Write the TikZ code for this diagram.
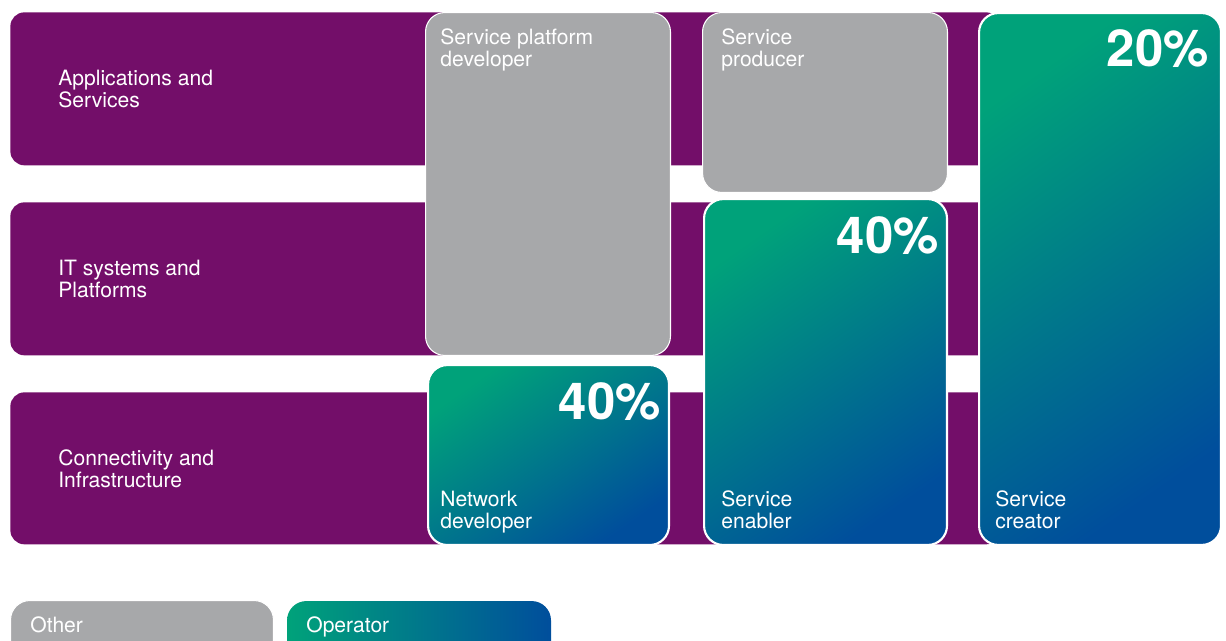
\documentclass[tikz,border=0pt]{standalone}
\usepackage{fontspec}
\setmainfont{TeX Gyre Heros}
\usetikzlibrary{positioning}

\definecolor{bandpurple}{RGB}{115,14,105}
\definecolor{othergray}{RGB}{167,168,170}
\definecolor{opgreen}{RGB}{0,162,122}
\definecolor{opblue}{RGB}{0,78,156}

\begin{document}
\begin{tikzpicture}[x=0.02cm, y=-0.02cm,
    band/.style={fill=bandpurple, rounded corners=8pt, anchor=north west, inner sep=0pt},
    otherbox/.style={fill=othergray, draw=white, line width=0.6pt, rounded corners=11pt, anchor=north west, inner sep=0pt},
    opbox/.style={top color=opgreen, bottom color=opblue, shading angle=35, draw=white, line width=1.2pt, rounded corners=11pt, anchor=north west, inner sep=0pt},
    bandtext/.style={text=white, align=left, inner sep=0pt, font=\fontsize{12}{12.5}\selectfont},
    boxtext/.style={text=white, align=left, inner sep=0pt, text depth=2.6pt, font=\fontsize{12}{12.5}\selectfont},
    pct/.style={text=white, inner sep=0pt, anchor=north east, font=\fontsize{29}{29}\selectfont\bfseries}]
      \useasboundingbox (0,0) rectangle (1226,641);

      % layers %
      \node[band, minimum width=19.8cm, minimum height=3.06cm] (apps) at (10,12) {};
      \node[band, minimum width=19.8cm, minimum height=3.06cm] (it) at (10,202) {};
      \node[band, minimum width=19.8cm, minimum height=3.04cm] (conn) at (10,392) {};
      \node[bandtext, anchor=west, xshift=0.96cm] (appstxt) at (apps.west) {Applications and\\Services};
      \node[bandtext, anchor=west, xshift=0.96cm] (ittxt) at (it.west) {IT systems and\\Platforms};
      \node[bandtext, anchor=west, xshift=0.96cm] (conntxt) at (conn.west) {Connectivity and\\Infrastructure};

      % roles %
      \node[otherbox, minimum width=4.9cm, minimum height=6.86cm] (spd) at (425,12) {};
      \node[otherbox, minimum width=4.9cm, minimum height=3.6cm] (sprod) at (702,12) {};
      \node[opbox, minimum width=4.82cm, minimum height=3.6cm] (netdev) at (427,364) {};
      \node[opbox, minimum width=4.86cm, minimum height=6.92cm] (senab) at (703,198) {};
      \node[opbox, minimum width=4.84cm, minimum height=10.64cm] (screat) at (978,12) {};

      \node[boxtext, anchor=north west, xshift=0.3cm, yshift=-0.32cm] (spdtxt) at (spd.north west) {Service platform\\developer};
      \node[boxtext, anchor=north west, xshift=0.38cm, yshift=-0.32cm] (sprodtxt) at (sprod.north west) {Service\\producer};
      \node[boxtext, anchor=south west, xshift=0.26cm, yshift=0.26cm] (netdevtxt) at (netdev.south west) {Network\\developer};
      \node[boxtext, anchor=south west, xshift=0.36cm, yshift=0.26cm] (senabtxt) at (senab.south west) {Service\\enabler};
      \node[boxtext, anchor=south west, xshift=0.34cm, yshift=0.26cm] (screattxt) at (screat.south west) {Service\\creator};

      \node[pct, xshift=-0.18cm, yshift=-0.36cm] (netdevpct) at (netdev.north east) {40\%};
      \node[pct, xshift=-0.18cm, yshift=-0.36cm] (senabpct) at (senab.north east) {40\%};
      \node[pct, xshift=-0.26cm, yshift=-0.34cm] (screatpct) at (screat.north east) {20\%};

      % legend %
      \node[otherbox, minimum width=5.26cm, minimum height=1.2cm] (other) at (10,600) {};
      \node[opbox, left color=opgreen, right color=opblue, draw=none, minimum width=5.28cm, minimum height=1.2cm] (operator) at (286,600) {};
      \node[boxtext, anchor=north west, xshift=0.4cm, yshift=-0.32cm] (othertxt) at (other.north west) {Other};
      \node[boxtext, anchor=north west, xshift=0.4cm, yshift=-0.32cm] (operatortxt) at (operator.north west) {Operator};
\end{tikzpicture}
\end{document}
